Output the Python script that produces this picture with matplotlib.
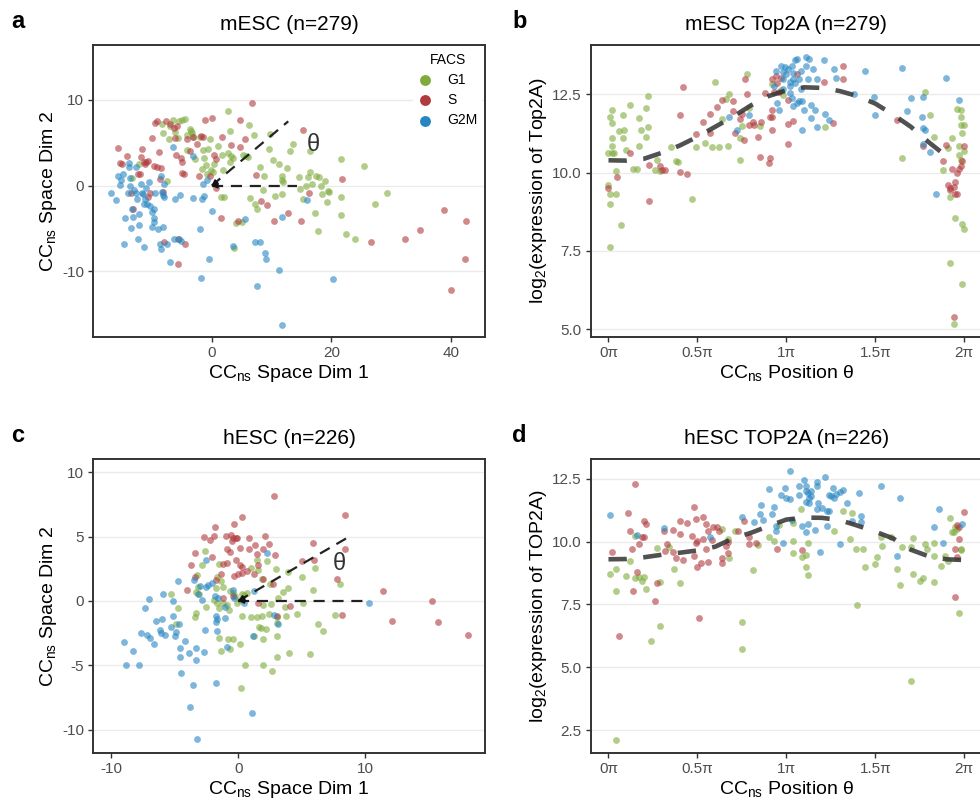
import numpy as np
import matplotlib
matplotlib.use("Agg")
import matplotlib.pyplot as plt

plt.rcParams['font.family'] = ['Liberation Sans', 'DejaVu Sans']
plt.rcParams['mathtext.fontset'] = 'custom'
plt.rcParams['mathtext.rm'] = 'Liberation Sans'
plt.rcParams['mathtext.it'] = 'Liberation Sans:italic'
plt.rcParams['axes.unicode_minus'] = False

phases = ["G1", "S", "G2M"]
phase_colors = {"G1": "#7fab3d", "S": "#b03a3e", "G2M": "#2686c2"}

# ---- mESC, CCns space ----
mesc_g1_x = [-13.4, -12.1, -8.3, -8.2, -7.5, -7.2, -6.9, -6.4, -6.1, -5.6, -5.4, -4.9, -4.4, -4.2, -4.1, -3.7,
             -3.4, -3.3, -3.1, -2.8, -1.9, -1.7, -1.4, -1.3, -0.9, -0.8, -0.6, -0.3, -0.1, 0.2, 0.3, 1.1, 1.5,
             1.7, 1.9, 2.1, 2.7, 2.8, 3.1, 3.1, 3.3, 3.6, 3.7, 4.1, 5.1, 5.3, 5.8, 6.1, 6.3, 6.4, 7.1, 7.2, 7.5,
             8.1, 8.6, 8.7, 9.5, 9.8, 10.2, 10.6, 11.2, 11.7, 11.8, 12.0, 11.8, 12.6, 13.1, 13.6, 14.6, 14.8,
             15.3, 15.7, 16.1, 16.4, 16.5, 16.8, 17.2, 17.4, 17.8, 18.0, 18.2, 18.5, 18.9, 19.2, 19.5, 19.6,
             21.7, 21.7, 21.7, 22.4, 24.0, 25.4, 27.3, 29.3]
mesc_g1_y = [0.9, 2.5, 7.2, 6.1, 0.5, 5.4, 6.9, 7.6, 6.3, 5.5, 7.5, 7.6, 7.8, 4.2, 5.9, 6.6,
             6.4, 6.1, 5.7, 3.1, 5.7, 1.9, 4.2, 3.2, 2.4, 1.4, 4.3, 5.4, 1.8, 1.6, 2.5, 4.6, -1.3,
             3.6, 1.8, -1.3, 8.7, 3.8, 6.4, 2.8, 3.4, 3.2, -7.3, -4.3, -4.2, 3.6, 3.4, 3.3, 7.1, -1.4, 5.9, -2.1, -2.7,
             2.2, -0.5, 1.1, 4.3, 6.0, 3.0, -1.2, 2.5, 1.1, 0.7, 0.4, -1.0, 2.0, 4.0, 4.8, 1.0, -0.4,
             -1.5, -0.1, 1.0, 4.0, 1.6, 0.2, -3.2, 1.1, -5.3, 1.0, -0.1, -1.0, 0.5, -1.9, -0.6, -0.7,
             3.1, -1.3, -3.4, -5.6, -6.2, 2.3, -2.1, -0.9]
mesc_s_x = [-15.7, -15.3, -15.0, -14.2, -13.5, -13.2, -12.4, -12.0, -11.8, -11.6, -11.4, -11.1, -11.0, -10.7,
            -10.6, -10.3, -10.0, -9.7, -9.5, -9.2, -9.1, -8.8, -8.6, -8.5, -8.1, -8.0, -7.6, -6.9, -6.3, -6.1,
            -5.8, -6.0, -5.6, -5.6, -5.2, -5.0, -4.9, -4.6, -4.5, -4.2, -3.7, -3.2, -2.5, -2.2, -1.8, -1.5, -1.1,
            -0.3, 0.0, 0.4, 0.8, 0.8, 1.6, 1.8, 3.2, 4.4, 4.8, 5.6, 4.7, 6.8, 7.4, 8.2, 9.3, 10.4, 12.8, 14.9,
            15.3, 16.2, 21.8, 26.7, 32.4, 34.8, 38.9, 40.0, 42.5, 42.4]
mesc_s_y = [4.4, 2.6, 2.5, 3.4, -0.9, -2.7, 1.3, 1.4, 3.3, 4.3, 2.7, 2.5, 2.8, 2.9,
            -1.3, -0.8, 5.5, 2.3, 7.3, 7.5, 2.2, 3.9, 0.8, 2.0, -0.7, -6.6, 7.5, 7.2, 6.7, 5.6,
            7.0, 3.6, -6.2, -9.1, 3.2, 1.5, 2.7, 1.3, -6.8, 5.4, 4.0, 5.7, 4.8, 1.1, 5.8, 5.7, 7.6,
            1.1, 7.9, 3.6, 3.1, -0.3, -3.8, 5.7, 4.7, -4.1, 7.6, 5.4, 4.5, 9.6, 1.2, -1.8, -2.3, -4.1, -3.2, -4.1,
            6.5, -0.8, 0.8, -6.6, -6.2, -5.2, -2.8, -12.2, -4.1, -8.5]
mesc_g2m_x = [-16.9, -16.0, -15.7, -15.1, -15.3, -14.9, -14.5, -14.7, -13.9, -13.8, -13.6, -14.0, -13.6, -13.5,
              -13.4, -13.1, -13.0, -12.7, -12.6, -12.5, -12.2, -12.3, -12.1, -11.8, -11.7, -11.5, -11.4, -11.3,
              -11.1, -11.0, -10.8, -10.5, -10.3, -10.0, -10.0, -9.7, -9.7, -9.5, -9.6, -8.9, -8.6, -8.3, -8.5,
              -8.5, -8.2, -8.1, -8.0, -7.9, -7.4, -6.9, -6.5, -6.2, -6.3, -5.5, -5.3, -5.1, -3.1, -3.1, -1.9,
              -1.8, -1.7, -1.5, -1.3, -0.8, -0.4, 0.0, 3.5, 5.6, 7.3, 7.5, 8.1, 8.9, 9.0, 11.2, 11.7, 11.7,
              15.9, 20.3]
mesc_g2m_y = [-0.9, -1.7, 1.1, 0.7, 0.1, 1.4, -3.8, -6.8, 2.6, 2.2, 0.9, -0.8, -0.1, -4.9,
              -2.7, -3.6, -0.5, 2.2, -0.9, -1.6, -3.3, -6.2, -4.6, 0.2, -0.9, -1.0, -7.1, -2.1,
              -1.6, -0.3, -2.1, 0.4, -2.4, -3.1, -4.8, -3.8, -4.2, -0.8, -2.7, -5.1, -6.8, -0.7, -7.4,
              1.1, -4.8, -1.1, 0.2, -1.3, -6.8, -8.9, 4.5, -1.5, -6.2, -6.2, -1.1, -6.4, 3.5, -1.4, -5.1,
              -10.8, -1.5, 0.2, -1.2, 0.7, -8.6, -3.0, -7.0, -3.9, -6.6, -11.7, -6.6, -7.8, -8.6, -9.8, -3.6, -16.3,
              -1.7, -10.9]

# ---- mESC, Top2A vs position (theta in units of pi) ----
mtop_g1_t = [0.0, 0.0, 0.01, 0.01, 0.02, 0.02, 0.02, 0.01, 0.01, 0.02, 0.02, 0.03, 0.04, 0.04, 0.06, 0.07,
             0.08, 0.08, 0.09, 0.10, 0.12, 0.14, 0.16, 0.17, 0.17, 0.18, 0.21, 0.21, 0.22, 0.22, 0.26, 0.27,
             0.29, 0.35, 0.38, 0.39, 0.47, 0.49, 0.54, 0.58, 0.60, 0.62, 0.64, 0.66, 0.67, 0.68, 0.74, 0.74,
             0.75, 0.78, 0.79, 0.85, 0.92, 0.97, 0.98, 1.22, 1.65, 1.78, 1.81, 1.83, 1.88, 1.91, 1.92, 1.93,
             1.92, 1.94, 1.95, 1.96, 1.97, 1.97, 1.98, 1.98, 1.98, 1.98, 1.99, 1.99, 1.99, 2.00, 2.00, 2.00]
mtop_g1_y = [10.63, 9.61, 9.33, 11.78, 11.59, 10.86, 12.01, 7.63, 8.98, 11.10, 10.63, 10.63, 10.06, 9.30, 11.34, 8.31,
             11.84, 11.10, 11.37, 10.73, 12.15, 10.12, 10.12, 10.86, 11.73, 11.35, 12.05, 11.13, 11.45, 12.44, 10.07, 10.41,
             10.06, 10.80, 10.38, 10.34, 9.14, 10.81, 10.93, 10.80, 12.90, 10.82, 11.71, 12.35, 10.86, 12.51, 11.11, 10.41,
             11.48, 13.13, 12.06, 11.48, 12.83, 12.62, 12.46, 11.46, 10.47, 12.56, 11.82, 11.12, 10.09, 10.79, 9.23, 11.10,
             7.10, 5.17, 8.55, 12.03, 10.86, 10.57, 10.39, 11.52, 11.77, 11.99, 11.27, 6.45, 8.37, 8.21, 11.53, 10.68]
mtop_s_t = [0.00, 0.05, 0.12, 0.23, 0.23, 0.29, 0.30, 0.32, 0.40, 0.40, 0.42, 0.44, 0.49, 0.53, 0.57, 0.61,
            0.57, 0.64, 0.70, 0.70, 0.71, 0.74, 0.75, 0.76, 0.77, 0.78, 0.79, 0.81, 0.82, 0.84, 0.85, 0.86,
            0.88, 0.90, 0.91, 0.91, 0.92, 0.92, 0.92, 0.92, 0.93, 0.94, 0.95, 0.96, 0.97, 1.01, 1.01, 1.01,
            1.04, 1.06, 1.21, 1.26, 1.32, 1.32, 1.62, 1.77, 1.88, 1.90, 1.91, 1.92, 1.92, 1.93, 1.94, 1.95,
            1.95, 1.96, 1.96, 1.97, 1.98, 1.99, 2.00, 1.94]
mtop_s_y = [9.49, 9.86, 10.63, 10.24, 9.10, 10.20, 10.07, 10.07, 10.03, 11.82, 12.74, 9.94, 11.24, 11.62, 11.88, 12.09,
            11.27, 12.30, 12.28, 11.95, 11.27, 11.71, 11.88, 11.05, 12.97, 12.51, 11.53, 11.61, 11.53, 11.14, 10.48, 11.61,
            12.54, 10.30, 10.45, 11.77, 11.77, 11.37, 12.01, 12.97, 12.57, 13.07, 12.86, 12.56, 13.03, 10.91, 12.33, 11.55,
            11.64, 13.13, 12.88, 11.59, 13.39, 12.98, 11.69, 10.84, 10.36, 10.89, 9.60, 9.44, 9.51, 10.12, 9.53, 9.30,
            9.70, 9.30, 9.99, 10.10, 10.20, 10.36, 10.84, 5.38]
mtop_g2m_t = [0.68, 0.72, 0.79, 0.93, 0.94, 0.95, 0.96, 0.97, 0.98, 0.98, 0.98, 0.99, 1.00, 1.01, 1.02, 1.02,
              1.02, 1.03, 1.03, 1.04, 1.04, 1.04, 1.05, 1.05, 1.06, 1.06, 1.07, 1.07, 1.08, 1.08, 1.09, 1.09,
              1.10, 1.11, 1.11, 1.12, 1.13, 1.14, 1.14, 1.15, 1.16, 1.17, 1.17, 1.21, 1.22, 1.24, 1.27, 1.28,
              1.38, 1.44, 1.49, 1.50, 1.65, 1.68, 1.70, 1.76, 1.77, 1.77, 1.78, 1.77, 1.81, 1.84, 1.90, 1.97]
mtop_g2m_y = [11.77, 11.35, 11.82, 12.76, 13.23, 12.22, 12.01, 13.39, 13.20, 12.99, 12.65, 13.37, 13.16, 13.31, 12.88, 12.54,
              12.76, 13.41, 12.38, 12.99, 12.12, 13.18, 13.59, 12.86, 13.61, 12.22, 12.97, 12.28, 12.67, 13.23, 12.28, 11.35,
              11.99, 13.69, 13.39, 12.97, 13.63, 12.14, 11.74, 13.29, 11.99, 11.46, 12.97, 13.59, 11.88, 11.67, 13.29, 13.02,
              12.50, 13.23, 12.41, 11.82, 13.34, 11.96, 12.38, 11.78, 11.43, 12.41, 11.37, 10.91, 10.65, 9.32, 13.02, 12.33]
mtop_fit_t = [0.0, 0.1, 0.2, 0.3, 0.4, 0.5, 0.6, 0.7, 0.8, 0.9, 1.0, 1.1, 1.2, 1.3, 1.4, 1.5, 1.6, 1.7, 1.8, 1.9]
mtop_fit_y = [10.39, 10.38, 10.44, 10.63, 10.86, 11.14, 11.46, 11.78, 12.14, 12.44, 12.62, 12.72, 12.70, 12.60,
              12.44, 12.20, 11.85, 11.46, 10.97, 10.52]

# ---- hESC, CCns space ----
hesc_g1_x = [-2.58, -2.89, -3.21, -3.16, -3.34, -3.08, -5.26, -4.74, -4.87, -3.42, -3.29, -1.71, -1.50, -1.32, -1.18,
             -1.76, -1.92, -1.71, -1.50, -1.24, -0.92, -0.76, -0.66, -0.39, -0.24, -0.13, 0.13, 0.26, 0.47, 0.66,
             0.26, 0.97, 1.50, 1.58, 1.84, 2.29, 2.50, 1.97, 2.55, 2.97, 3.16, 3.50, 3.92, 3.89, 0.97, 1.50, 1.84,
             2.45, 3.03, 3.76, 4.61, 1.63, 1.79, 2.18, 3.03, 3.08, 1.97, 1.26, -0.39, -0.79, -1.50, -1.37, -0.66,
             0.13, 3.08, 4.00, 5.61, 0.55, 1.97, 2.63, 0.18, 5.00, 6.05, 5.87, 6.24, 6.66, 7.63, 7.97, 5.08, 3.68,
             -2.50]
hesc_g1_y = [3.91, 2.75, 1.99, 1.06, 0.65, 0.54, 0.57, -0.52, -1.81, -1.22, -0.91, 1.89, 2.85, 1.58, 1.06,
             0.98, 0.08, -0.18, -0.57, -0.18, -0.31, -0.70, 0.73, 0.60, 0.34, -0.18, 0.08, 0.54, 0.44, 0.60,
             -1.14, 2.59, 3.19, 2.36, 1.68, 3.06, 1.32, -0.31, -0.28, 2.46, 0.21, 0.70, 0.96, 2.28, -1.27, -1.22, -1.17,
             -1.01, -1.22, -1.14, -1.06, -2.05, -2.12, -2.15, -1.74, -2.72, -2.93, -2.77, -2.93, -2.98, -2.85, -3.91, -3.73,
             -3.34, -4.33, -4.07, -4.12, -4.95, -4.97, -5.44, -6.81, 1.84, 2.54, 0.85, -1.79, -2.38, -1.11, 1.32, -0.18, -0.49,
             -0.47]
hesc_s_x = [2.84, 8.42, 0.26, -0.32, -1.84, -2.71, -2.24, -1.89, -0.97, -0.61, -0.39, -0.18, -0.53, -0.13, 0.13,
            0.84, 1.32, 2.11, 2.45, 0.87, 1.45, 1.92, 2.89, -0.92, -0.66, -3.42, -3.74, -2.03, -0.18, 0.13, 0.26,
            -1.18, -0.92, 1.58, -1.39, -3.37, -4.00, -1.76, -1.18, -0.45, -0.34, -0.05, 0.26, 0.66, 1.26, 1.97,
            2.76, 5.00, 5.92, 5.84, 8.42, 7.76, 8.16, 1.58, 4.03, 3.08, 11.39, 12.05, 15.26, 15.74, 18.03]
hesc_s_y = [8.16, 6.71, 6.50, 5.96, 5.75, 4.95, 4.69, 5.05, 5.05, 5.10, 4.87, 4.87, 4.66, 4.92, 4.09,
            4.92, 4.35, 5.05, 4.43, 4.04, 3.65, 4.04, 3.57, 4.01, 3.76, 3.68, 2.75, 3.37, 3.19, 2.80, 2.62,
            2.85, 2.98, 2.80, 2.10, 1.89, 0.85, 1.63, 0.21, 0.41, 1.94, 2.10, 2.20, 2.33, 2.07, 1.71,
            1.30, 3.13, 3.19, 4.53, 4.04, 1.68, -1.09, -0.18, -0.39, -1.17, 0.78, -1.53, -0.05, -1.61, -2.69]
hesc_g2m_x = [-8.95, -8.82, -8.24, -7.84, -7.63, -7.37, -7.03, -7.18, -6.97, -6.63, -6.45, -6.18, -6.11, -5.97,
              -5.92, -5.79, -5.32, -5.13, -5.13, -5.00, -4.87, -4.66, -4.74, -4.58, -4.55, -4.47, -4.18, -3.87,
              -3.82, -3.55, -3.47, -3.34, -3.29, -3.24, -3.13, -3.03, -2.82, -2.68, -2.58, -2.55, -2.50, -2.37,
              -2.03, -1.84, -1.76, -1.71, -1.76, -1.71, -1.76, -1.58, -1.05, -1.05, -0.92, -0.39, -0.32, 0.47,
              1.05, 1.13, 1.26, 2.29, 2.82, 3.16, 10.26]
hesc_g2m_y = [-3.19, -5.00, -3.86, -4.97, -2.46, -0.54, 0.13, -2.69, -2.90, -3.34, -1.53, -2.28, -2.51, -1.42,
              0.52, -2.64, -2.07, 0.00, -1.17, -2.77, -2.43, -1.81, 1.55, -4.33, -3.68, -5.62, -3.11, -4.09,
              -8.26, -6.55, 1.63, -4.58, -3.65, -10.75, 0.54, 1.17, 0.03, -4.01, -2.28, 3.19, 1.11, 1.24,
              1.37, 0.41, -1.14, -1.40, -1.61, -2.38, -6.40, 0.21, -0.44, -1.30, -3.55, 0.85, 0.21, -0.18,
              -8.68, -2.72, 0.80, 3.70, -1.09, -1.81, -0.18]

# ---- hESC, TOP2A vs position (theta in units of pi) ----
htop_g1_t = [0.01, 0.04, 0.04, 0.04, 0.10, 0.12, 0.15, 0.15, 0.17, 0.19, 0.20, 0.21, 0.24, 0.27, 0.29, 0.29, 0.34,
             0.37, 0.40, 0.64, 0.67, 0.68, 0.71, 0.75, 0.75, 0.84, 0.81, 0.90, 0.93, 0.96, 1.04, 1.04, 1.04,
             1.08, 1.09, 1.11, 1.11, 1.12, 1.12, 1.27, 1.32, 1.36, 1.37, 1.39, 1.40, 1.43, 1.44, 1.50, 1.51,
             1.53, 1.54, 1.59, 1.62, 1.64, 1.65, 1.70, 1.70, 1.71, 1.71, 1.75, 1.77, 1.78, 1.79, 1.83, 1.83,
             1.83, 1.87, 1.89, 1.91, 1.92, 1.93, 1.94, 1.95, 1.96, 1.97, 1.98, 1.98]
htop_g1_y = [8.72, 8.91, 8.03, 2.11, 8.64, 9.24, 10.24, 8.54, 8.58, 8.43, 8.60, 8.10, 6.04, 9.76, 8.40, 6.65, 9.77,
             8.90, 8.36, 10.51, 10.11, 9.36, 10.41, 6.81, 5.74, 9.88, 8.87, 10.20, 10.03, 10.65, 10.73, 10.04, 9.53,
             11.29, 9.40, 9.49, 9.00, 8.68, 9.93, 10.44, 11.24, 10.09, 11.16, 9.69, 7.47, 9.69, 8.98, 9.11, 9.40,
             10.17, 9.84, 10.17, 8.91, 8.26, 9.77, 4.44, 9.80, 10.13, 8.70, 8.43, 8.54, 9.89, 9.69, 9.44, 8.39,
             9.93, 9.03, 9.43, 9.23, 10.96, 10.39, 10.39, 10.60, 10.49, 7.17, 9.69, 9.67]
htop_s_t = [0.02, 0.06, 0.11, 0.12, 0.13, 0.14, 0.15, 0.16, 0.17, 0.19, 0.20, 0.21, 0.20, 0.27, 0.26, 0.31,
            0.32, 0.33, 0.36, 0.36, 0.38, 0.40, 0.40, 0.42, 0.44, 0.47, 0.48, 0.48, 0.49, 0.49, 0.50, 0.50,
            0.51, 0.52, 0.53, 0.53, 0.55, 0.55, 0.56, 0.56, 0.58, 0.59, 0.61, 0.62, 0.64, 0.64, 0.66, 0.67,
            0.67, 0.73, 0.76, 0.79, 0.79, 0.83, 0.95, 1.09, 1.95, 1.95, 1.96, 1.96, 1.97, 1.97, 2.00]
htop_s_y = [9.57, 6.26, 11.16, 10.41, 9.69, 8.03, 12.29, 8.79, 9.89, 10.17, 10.84, 10.70, 10.17, 8.34, 7.65, 10.44,
            9.64, 9.91, 10.47, 9.60, 9.37, 10.84, 10.31, 9.27, 10.76, 10.23, 11.37, 9.45, 10.89, 9.93, 10.04, 9.00,
            6.98, 9.14, 11.00, 10.11, 10.70, 9.72, 10.43, 9.19, 10.07, 10.57, 10.57, 10.41, 9.37, 9.16, 9.84, 9.56,
            9.99, 10.44, 10.84, 10.17, 9.92, 9.96, 9.69, 9.67, 9.72, 7.78, 10.68, 9.40, 10.09, 10.60, 11.17]
htop_g2m_t = [0.01, 0.16, 0.31, 0.57, 0.75, 0.82, 0.85, 0.86, 0.87, 0.90, 0.92, 0.93, 0.94, 0.94, 0.97, 0.98,
              0.99, 1.00, 1.02, 1.02, 1.03, 1.07, 1.07, 1.09, 1.10, 1.11, 1.11, 1.11, 1.11, 1.12, 1.12, 1.13,
              1.13, 1.14, 1.14, 1.16, 1.17, 1.17, 1.17, 1.18, 1.19, 1.20, 1.22, 1.23, 1.23, 1.24, 1.24, 1.25,
              1.26, 1.27, 1.28, 1.30, 1.30, 1.32, 1.34, 1.37, 1.41, 1.42, 1.42, 1.53, 1.62, 1.64, 1.83, 1.86,
              1.88, 1.99]
htop_g2m_y = [11.08, 10.27, 10.56, 10.17, 11.00, 10.78, 11.10, 11.46, 10.86, 12.11, 11.09, 11.37, 10.44, 10.64, 11.85, 9.96,
              12.15, 11.73, 12.81, 11.69, 10.86, 12.22, 11.84, 10.63, 12.46, 11.60, 12.00, 10.40, 12.22, 11.93, 10.69, 11.73,
              11.53, 12.03, 11.82, 10.47, 12.37, 11.29, 12.22, 11.56, 9.59, 11.33, 12.57, 10.63, 11.22, 11.84, 11.22, 11.80,
              12.13, 11.74, 11.90, 9.89, 11.96, 12.06, 11.53, 10.82, 11.93, 11.02, 10.78, 12.23, 9.45, 11.72, 10.57, 11.29,
              9.96, 10.70]
htop_fit_t = [0.0, 0.1, 0.2, 0.3, 0.4, 0.5, 0.6, 0.7, 0.8, 0.9, 1.0, 1.1, 1.2, 1.3, 1.4, 1.5, 1.6, 1.7, 1.8, 1.9, 2.0]
htop_fit_y = [9.30, 9.31, 9.38, 9.48, 9.56, 9.65, 9.80, 10.13, 10.35, 10.62, 10.88, 10.96, 10.95, 10.86,
              10.64, 10.40, 10.13, 9.68, 9.42, 9.30, 9.27]

# reference rays drawn in the CCns space panels: (horizontal end, diagonal end, theta label)
mesc_ray = {"h": (14.3, 0.0), "d": (12.8, 7.5), "lab": (17.0, 4.7)}
hesc_ray = {"h": (10.0, 0.0), "d": (8.66, 4.95), "lab": (7.95, 2.9)}

W, H = 980, 807
fig = plt.figure(figsize=(W / 100, H / 100), dpi=100)

TITLE_SIZE = 15
LABEL_SIZE = 14
TICK_SIZE = 11


def px_axes(left, top, right, bottom):
    return fig.add_axes([left / W, 1 - bottom / H, (right - left) / W, (bottom - top) / H])


def style_axes(ax):
    for sp in ax.spines.values():
        sp.set_color("#333333")
        sp.set_linewidth(1.4)
    ax.tick_params(axis="both", length=3.5, width=1.0, color="#333333",
                   labelsize=TICK_SIZE, labelcolor="#4d4d4d", pad=3)
    ax.yaxis.grid(True, color="#ebebeb", linewidth=1.0)
    ax.xaxis.grid(False)
    ax.set_axisbelow(True)


def draw_points(ax, groups, scale=1.0):
    for name, (xs, ys) in zip(phases, groups):
        ax.scatter(np.array(xs) * scale, ys, s=24, color=phase_colors[name], alpha=0.6,
                   linewidths=0, label=name, zorder=2)


def draw_rays(ax, ray):
    for key in ("h", "d"):
        ex, ey = ray[key]
        ax.plot([0, ex], [0, ey], color="#222222", lw=1.6, dashes=(5, 3.5), zorder=3)
        ax.annotate("", xy=(0, 0), xytext=(ex * 0.06, ey * 0.06),
                    arrowprops=dict(arrowstyle="-|>", color="#111111", lw=1.4,
                                    mutation_scale=7, shrinkA=0, shrinkB=0), zorder=4)
    ax.text(*ray["lab"], "θ", fontsize=17, color="#333333", ha="center", va="center")


def draw_fit(ax, ts, ys):
    ax.plot(np.array(ts) * np.pi, ys, color="#333333", alpha=0.85, lw=3.3,
            dashes=(4, 3.6), solid_capstyle="butt", dash_capstyle="butt", zorder=3)


def theta_axis(ax):
    ax.set_xlim(-0.1 * np.pi, 2.1 * np.pi)
    ax.set_xticks(np.pi * np.array([0, 0.5, 1, 1.5, 2]))
    ax.set_xticklabels(["0π", "0.5π", "1π", "1.5π", "2π"])
    ax.set_xlabel("CC$_{\\mathrm{ns}}$ Position θ", fontsize=LABEL_SIZE, labelpad=2)


space_xlabel = "CC$_{\\mathrm{ns}}$ Space Dim 1"
space_ylabel = "CC$_{\\mathrm{ns}}$ Space Dim 2"

# a: mESC space
ax_a = px_axes(93.3, 45, 485, 337)
style_axes(ax_a)
draw_points(ax_a, [(mesc_g1_x, mesc_g1_y), (mesc_s_x, mesc_s_y), (mesc_g2m_x, mesc_g2m_y)])
draw_rays(ax_a, mesc_ray)
ax_a.set_xlim(-19.8, 45.7)
ax_a.set_ylim(-17.65, 16.4)
ax_a.set_xticks([0, 20, 40])
ax_a.set_yticks([-10, 0, 10])
ax_a.set_xlabel(space_xlabel, fontsize=LABEL_SIZE, labelpad=2)
ax_a.set_ylabel(space_ylabel, fontsize=LABEL_SIZE, labelpad=2)
ax_a.set_title("mESC (n=279)", fontsize=TITLE_SIZE, pad=11)
leg = ax_a.legend(title="FACS", loc="upper right", bbox_to_anchor=(1.0, 1.0), frameon=True,
                  fontsize=10, title_fontsize=10, handlelength=1.0, handletextpad=1.1,
                  labelspacing=0.45, borderpad=0.35, borderaxespad=0.2,
                  markerscale=1.6, scatterpoints=1)
leg.get_frame().set_edgecolor("none")
leg.get_frame().set_facecolor("white")
leg.get_frame().set_alpha(1.0)
for h in leg.legend_handles:
    h.set_alpha(1.0)

# b: mESC Top2A
ax_b = px_axes(590.7, 45, 982, 337)
style_axes(ax_b)
draw_points(ax_b, [(mtop_g1_t, mtop_g1_y), (mtop_s_t, mtop_s_y), (mtop_g2m_t, mtop_g2m_y)], scale=np.pi)
draw_fit(ax_b, mtop_fit_t, mtop_fit_y)
theta_axis(ax_b)
ax_b.set_ylim(4.75, 14.07)
ax_b.set_yticks([5.0, 7.5, 10.0, 12.5])
ax_b.set_yticklabels(["5.0", "7.5", "10.0", "12.5"])
ax_b.set_ylabel("log$_{2}$(expression of Top2A)", fontsize=LABEL_SIZE, labelpad=2)
ax_b.set_title("mESC Top2A (n=279)", fontsize=TITLE_SIZE, pad=11)

# c: hESC space
ax_c = px_axes(93.3, 459.3, 485, 752.7)
style_axes(ax_c)
draw_points(ax_c, [(hesc_g1_x, hesc_g1_y), (hesc_s_x, hesc_s_y), (hesc_g2m_x, hesc_g2m_y)])
draw_rays(ax_c, hesc_ray)
ax_c.set_xlim(-11.4, 19.4)
ax_c.set_ylim(-11.8, 11.0)
ax_c.set_xticks([-10, 0, 10])
ax_c.set_yticks([-10, -5, 0, 5, 10])
ax_c.set_xlabel(space_xlabel, fontsize=LABEL_SIZE, labelpad=2)
ax_c.set_ylabel(space_ylabel, fontsize=LABEL_SIZE, labelpad=2)
ax_c.set_title("hESC (n=226)", fontsize=TITLE_SIZE, pad=11)

# d: hESC TOP2A
ax_d = px_axes(590.7, 459.3, 982, 752.7)
style_axes(ax_d)
draw_points(ax_d, [(htop_g1_t, htop_g1_y), (htop_s_t, htop_s_y), (htop_g2m_t, htop_g2m_y)], scale=np.pi)
draw_fit(ax_d, htop_fit_t, htop_fit_y)
theta_axis(ax_d)
ax_d.set_ylim(1.6, 13.28)
ax_d.set_yticks([2.5, 5.0, 7.5, 10.0, 12.5])
ax_d.set_yticklabels(["2.5", "5.0", "7.5", "10.0", "12.5"])
ax_d.set_ylabel("log$_{2}$(expression of TOP2A)", fontsize=LABEL_SIZE, labelpad=2)
ax_d.set_title("hESC TOP2A (n=226)", fontsize=TITLE_SIZE, pad=11)

# panel letters
for letter, (px, py) in zip("abcd", [(11, 28), (512, 28), (11, 442), (512, 442)]):
    fig.text(px / W, 1 - py / H, letter, fontsize=17, fontweight="bold", va="baseline", ha="left")

fig.savefig("out.png", dpi=100)
